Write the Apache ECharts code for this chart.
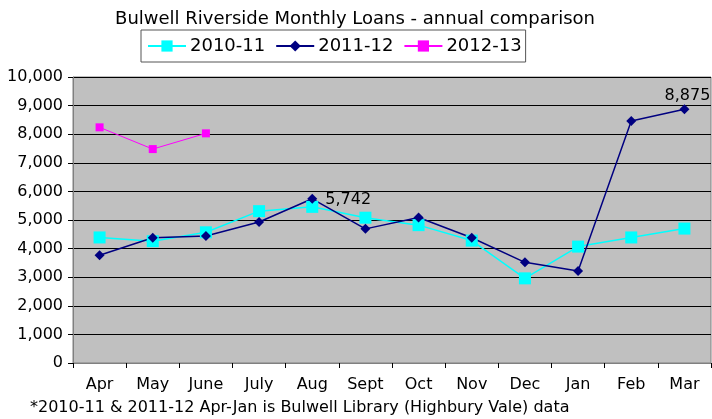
<!DOCTYPE html>
<html><head><meta charset="utf-8">
<script src="https://cdn.jsdelivr.net/npm/echarts@6/dist/echarts.min.js"></script>
<style>html,body{margin:0;padding:0;background:#fff}#c{width:712px;height:419px}</style>
</head><body><div id="c"></div>
<script>
const months = ['Apr','May','June','July','Aug','Sept','Oct','Nov','Dec','Jan','Feb','Mar'];
const s2010 = [4390,4260,4570,5310,5460,5080,4820,4280,2960,4070,4390,4700];
const s2011 = [3770,4380,4440,4930,5742,4690,5090,4380,3520,3220,8460,8875];
const s2012 = [8240,7480,8030,null,null,null,null,null,null,null,null,null];
const labelled2011 = {4:'right', 11:'top'};
const fmt = v => v.toLocaleString('en-US');
const F = 'DejaVu Sans';
const chart = echarts.init(document.getElementById('c'));
chart.setOption({
  animation:false,
  backgroundColor:'#fff',
  title:{text:'Bulwell Riverside Monthly Loans - annual comparison',left:350,textAlign:'center',top:5,
    textStyle:{fontFamily:F,fontSize:18,fontWeight:'normal',color:'#000'}},
  legend:{top:30,left:141,backgroundColor:'#fff',borderColor:'#555',borderWidth:1,padding:[7,4,7,6],
    itemWidth:38,itemHeight:14,itemGap:10,
    textStyle:{fontFamily:F,fontSize:18,color:'#000',padding:[0,0,0,-1]}},
  grid:{left:73,right:1,top:77,bottom:56,show:true,backgroundColor:'#c0c0c0',borderColor:'#808080',borderWidth:1},
  xAxis:{type:'category',data:months,boundaryGap:true,
    axisLine:{lineStyle:{color:'#808080'}},axisTick:{show:true,length:5,lineStyle:{color:'#000'}},
    axisLabel:{fontFamily:F,fontSize:16,color:'#000',margin:14}},
  yAxis:{type:'value',min:0,max:10000,interval:1000,
    axisLine:{show:true,lineStyle:{color:'#808080'}},axisTick:{show:true,length:5,lineStyle:{color:'#000'}},
    splitLine:{lineStyle:{color:'#000',width:1}},
    axisLabel:{fontFamily:F,fontSize:16,color:'#000',margin:10,formatter:fmt}},
  series:[
    {name:'2010-11',type:'line',data:s2010,symbol:'rect',symbolSize:12,
      itemStyle:{color:'#00ffff'},lineStyle:{color:'#00ffff',width:1.5}},
    {name:'2011-12',type:'line',data:s2011.map((v,i)=>labelled2011[i]?{value:v,label:{show:true,position:labelled2011[i],
        formatter:p=>fmt(p.value),fontFamily:F,fontSize:16,color:'#000',distance:labelled2011[i]==='top'?0:8,offset:labelled2011[i]==='top'?[3,0]:[0,1]}}:v),
      symbol:'diamond',symbolSize:10,
      itemStyle:{color:'#000080'},lineStyle:{color:'#000080',width:1.5}},
    {name:'2012-13',type:'line',data:s2012,symbol:'rect',symbolSize:8,
      itemStyle:{color:'#ff00ff'},lineStyle:{color:'#ff00ff',width:1}}
  ],
  graphic:[{type:'text',left:30,top:400,style:{text:'*2010-11 & 2011-12 Apr-Jan is Bulwell Library (Highbury Vale) data',
    fontFamily:F,fontSize:16,fill:'#000'}}]
});
</script></body></html>
